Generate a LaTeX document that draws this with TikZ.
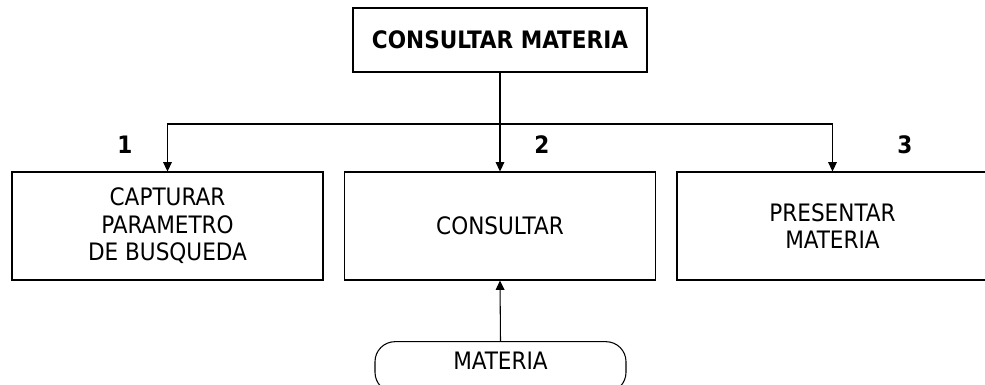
\documentclass[tikz,border=0pt]{standalone}
\usepackage{fontspec}
\setmainfont{DejaVu Sans Condensed}
\usetikzlibrary{arrows.meta}

\newcommand\textocaja{\fontsize{18}{20.6}\selectfont}
\newcommand\textonum{\fontsize{18}{20}\selectfont\bfseries}

\tikzset{
  caja/.style={draw, line width=0.8pt, minimum width=233.25pt, minimum height=81pt,
    align=center, inner sep=0pt, font=\textocaja},
  cajatitulo/.style={draw, line width=0.9pt, minimum width=220.5pt, minimum height=48pt,
    inner sep=0pt, font=\textocaja\bfseries},
  terminal/.style={draw, line width=0.8pt, rounded corners=15pt, minimum width=188.25pt,
    minimum height=38pt, inner sep=0pt, text depth=9pt, font=\textocaja},
  numero/.style={font=\textonum, inner sep=0pt},
  flecha/.style={line width=0.8pt, -{Triangle[length=7pt,width=6.5pt]}}
}

\begin{document}
\begin{tikzpicture}[x=0.75pt, y=-0.75pt]
  % Marco de la imagen
  \useasboundingbox (0,0) rectangle (985,385);

  % Modulo principal
  \node[cajatitulo] (consmat) at (500,40) {CONSULTAR MATERIA};

  % Submodulos
  \node[caja] (captura) at (167.5,226) {CAPTURAR\\PARAMETRO\\DE BUSQUEDA};
  \node[caja] (consulta) at (500,226) {CONSULTAR};
  \node[caja] (presenta) at (832.5,226) {PRESENTAR\\MATERIA};

  % Numeros de los submodulos
  \node[numero] (n1) at (125,145) {1};
  \node[numero] (n2) at (542,145) {2};
  \node[numero] (n3) at (905,145) {3};

  % Dato de entrada
  \node[terminal] (materia) at (500.5,367) {MATERIA};

  % Conexiones
  \coordinate (bus) at (500,124);
  \draw[line width=0.8pt] (consmat.south) -- (bus);
  \draw[flecha] (bus) -| (captura.north);
  \draw[flecha] (bus) -- (consulta.north);
  \draw[flecha] (bus) -| (presenta.north);
  \draw[flecha] (materia.north) -- (consulta.south);
\end{tikzpicture}
\end{document}
